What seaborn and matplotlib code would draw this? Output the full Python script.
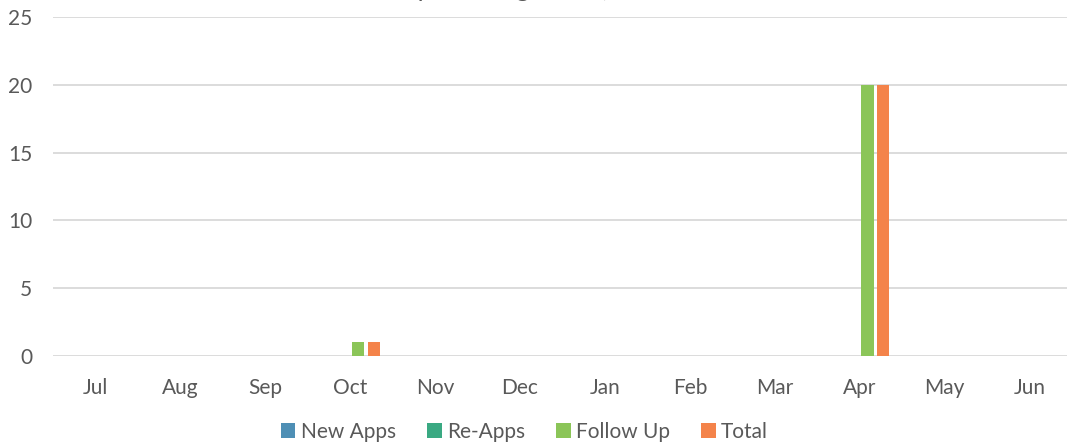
import pandas as pd
import matplotlib.pyplot as plt
import seaborn as sns

# data
months = ['Jul', 'Aug', 'Sep', 'Oct', 'Nov', 'Dec', 'Jan', 'Feb', 'Mar', 'Apr', 'May', 'Jun']
new_apps = [0, 0, 0, 0, 0, 0, 0, 0, 0, 0, 0, 0]
re_apps = [0, 0, 0, 0, 0, 0, 0, 0, 0, 0, 0, 0]
follow_up = [0, 0, 0, 1, 0, 0, 0, 0, 0, 20, 0, 0]
total = [0, 0, 0, 1, 0, 0, 0, 0, 0, 20, 0, 0]
series = ['New Apps', 'Re-Apps', 'Follow Up', 'Total']
colors = ['#4E8FB5', '#3AA982', '#8BC558', '#F4834A']

df = pd.DataFrame({'month': months, 'New Apps': new_apps, 'Re-Apps': re_apps,
                   'Follow Up': follow_up, 'Total': total})
long = df.melt(id_vars='month', var_name='series', value_name='count')

sns.set_style("white")
plt.rcParams['font.family'] = ['Lato', 'DejaVu Sans']
txt = '#595959'
grid = '#D9D9D9'

fig = plt.figure(figsize=(10.67, 4.48), dpi=100)
ax = fig.add_axes([53 / 1067, 92 / 448, 1019 / 1067, 339 / 448])

sns.barplot(data=long, x='month', y='count', hue='series', order=months,
            hue_order=series, palette=colors, saturation=1, width=0.74, gap=0.22,
            linewidth=0, ax=ax)

ax.set_ylim(0, 25)
ax.set_yticks([0, 5, 10, 15, 20, 25])
ax.set_xlim(-0.5, 11.5)
ax.yaxis.grid(True, color=grid, linewidth=1.3)
ax.set_axisbelow(True)
for s in ax.spines.values():
    s.set_visible(False)
ax.set_xlabel('')
ax.set_ylabel('')
ax.tick_params(axis='x', length=0, pad=16, labelsize=15, labelcolor=txt)
ax.tick_params(axis='y', length=0, pad=15, labelsize=15, labelcolor=txt)

# title sits almost entirely above the visible area, only descenders show
fig.text(0.5, 1.0 + 3 / 448, 'Follow Up Meetings Total, FY 2023-24', ha='center',
         va='baseline', fontsize=18, color=txt)

handles, labels = ax.get_legend_handles_labels()
ax.legend(handles, labels, loc='center', bbox_to_anchor=(0.5 - 38 / 1019, -76 / 339),
          ncol=4, frameon=False, fontsize=15, labelcolor=txt, handlelength=0.7,
          handleheight=0.7, handletextpad=0.25, columnspacing=1.5)

fig.savefig('out.png', dpi=100)
